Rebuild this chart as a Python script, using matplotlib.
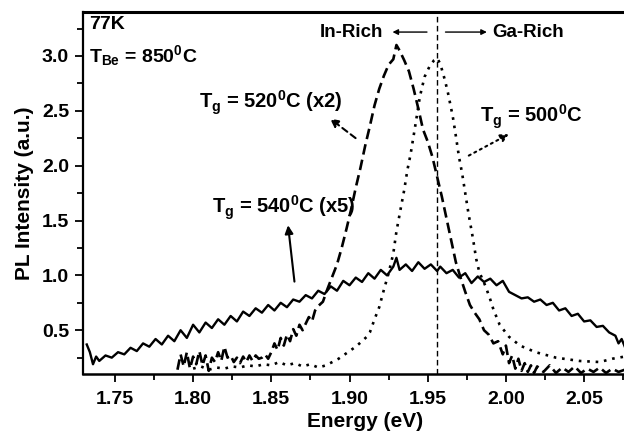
import matplotlib

matplotlib.use("Agg")
import matplotlib.pyplot as plt
from matplotlib.ticker import MultipleLocator, FormatStrFormatter

plt.rcParams["font.family"] = ["Liberation Sans", "DejaVu Sans"]
plt.rcParams["font.weight"] = "bold"
plt.rcParams["mathtext.fontset"] = "custom"
plt.rcParams["mathtext.rm"] = "Liberation Sans:bold"
plt.rcParams["mathtext.bf"] = "Liberation Sans:bold"
plt.rcParams["mathtext.it"] = "Liberation Sans:bold"

# Tg = 540 C (x5), solid
e540 = [1.732, 1.734, 1.736, 1.738, 1.740, 1.744, 1.748, 1.752, 1.756, 1.760,
        1.764, 1.768, 1.772, 1.776, 1.780, 1.784, 1.788, 1.792, 1.796, 1.800,
        1.804, 1.808, 1.812, 1.816, 1.820, 1.824, 1.828, 1.832, 1.836, 1.840,
        1.844, 1.848, 1.852, 1.856, 1.860, 1.864, 1.868, 1.872, 1.876, 1.880,
        1.884, 1.888, 1.892, 1.896, 1.900, 1.904, 1.908, 1.912, 1.916, 1.920,
        1.924, 1.928, 1.930, 1.932, 1.936, 1.940, 1.944, 1.948, 1.952, 1.956,
        1.958, 1.962, 1.966, 1.970, 1.974, 1.978, 1.982, 1.986, 1.990, 1.994,
        1.998, 2.002, 2.006, 2.010, 2.014, 2.018, 2.022, 2.026, 2.030, 2.034,
        2.038, 2.042, 2.046, 2.050, 2.054, 2.058, 2.062, 2.066, 2.070, 2.072,
        2.074, 2.076]
i540 = [0.37, 0.30, 0.19, 0.26, 0.22, 0.27, 0.25, 0.30, 0.28, 0.34,
        0.31, 0.38, 0.35, 0.42, 0.37, 0.45, 0.40, 0.50, 0.43, 0.55,
        0.48, 0.57, 0.52, 0.60, 0.55, 0.63, 0.58, 0.67, 0.63, 0.70,
        0.66, 0.73, 0.68, 0.75, 0.71, 0.78, 0.76, 0.82, 0.79, 0.86,
        0.83, 0.90, 0.86, 0.95, 0.91, 0.98, 0.94, 1.02, 0.97, 1.05,
        1.00, 1.08, 1.16, 1.05, 1.10, 1.04, 1.12, 1.06, 1.10, 1.04,
        1.08, 1.02, 1.05, 0.98, 1.02, 0.93, 0.99, 0.94, 0.97, 0.91,
        0.95, 0.85, 0.82, 0.79, 0.80, 0.76, 0.78, 0.73, 0.75, 0.68,
        0.70, 0.63, 0.65, 0.58, 0.59, 0.53, 0.54, 0.48, 0.45, 0.38,
        0.42, 0.35]

# Tg = 520 C (x2), dashed
e520 = [1.790, 1.792, 1.794, 1.796, 1.798, 1.800, 1.802, 1.804, 1.806, 1.808,
        1.810, 1.812, 1.814, 1.816, 1.818, 1.820, 1.822, 1.824, 1.826, 1.828,
        1.830, 1.832, 1.834, 1.836, 1.838, 1.840, 1.842, 1.844, 1.846, 1.848,
        1.850, 1.852, 1.854, 1.856, 1.858, 1.860, 1.862, 1.864, 1.866, 1.868,
        1.870, 1.872, 1.874, 1.876, 1.878, 1.880, 1.883, 1.886, 1.889, 1.892,
        1.895, 1.898, 1.901, 1.904, 1.907, 1.910, 1.913, 1.916, 1.919, 1.922,
        1.925, 1.928, 1.930, 1.932, 1.935, 1.938, 1.941, 1.944, 1.947, 1.950,
        1.953, 1.956, 1.959, 1.962, 1.965, 1.968, 1.971, 1.974, 1.977, 1.980,
        1.983, 1.986, 1.989, 1.992, 1.995, 1.998, 2.000, 2.002, 2.004, 2.006,
        2.008, 2.010, 2.012, 2.014, 2.016, 2.018, 2.020, 2.024, 2.028, 2.032,
        2.036, 2.040, 2.044, 2.048, 2.052, 2.056, 2.060, 2.064, 2.068, 2.072,
        2.076]
i520 = [0.14, 0.28, 0.17, 0.30, 0.15, 0.26, 0.19, 0.31, 0.18, 0.27,
        0.13, 0.25, 0.21, 0.30, 0.22, 0.35, 0.25, 0.27, 0.21, 0.25,
        0.20, 0.26, 0.21, 0.27, 0.22, 0.27, 0.24, 0.25, 0.28, 0.24,
        0.30, 0.38, 0.32, 0.43, 0.36, 0.46, 0.40, 0.51, 0.45, 0.55,
        0.50, 0.56, 0.62, 0.58, 0.68, 0.72, 0.76, 0.88, 0.99, 1.10,
        1.25, 1.42, 1.60, 1.80, 1.98, 2.18, 2.36, 2.55, 2.70, 2.82,
        2.92, 2.97, 3.10, 3.05, 2.96, 2.86, 2.70, 2.52, 2.33, 2.22,
        2.08, 1.90, 1.72, 1.52, 1.32, 1.12, 0.98, 0.85, 0.73, 0.66,
        0.60, 0.50, 0.46, 0.38, 0.40, 0.28, 0.36, 0.20, 0.27, 0.15,
        0.24, 0.13, 0.20, 0.12, 0.18, 0.11, 0.17, 0.12, 0.18, 0.11,
        0.16, 0.12, 0.17, 0.11, 0.15, 0.12, 0.16, 0.11, 0.15, 0.12,
        0.14]

# Tg = 500 C, dotted
e500 = [1.800, 1.805, 1.810, 1.815, 1.820, 1.825, 1.830, 1.835, 1.840, 1.845,
        1.850, 1.855, 1.860, 1.865, 1.870, 1.875, 1.880, 1.885, 1.889, 1.893,
        1.896, 1.900, 1.904, 1.908, 1.911, 1.913, 1.916, 1.919, 1.922, 1.925,
        1.928, 1.930, 1.933, 1.935, 1.937, 1.939, 1.942, 1.945, 1.948, 1.951,
        1.954, 1.956, 1.958, 1.961, 1.963, 1.966, 1.968, 1.970, 1.972, 1.974,
        1.976, 1.979, 1.981, 1.983, 1.987, 1.990, 1.992, 1.996, 2.002, 2.009,
        2.019, 2.032, 2.047, 2.060, 2.068, 2.076]
i500 = [0.15, 0.17, 0.14, 0.16, 0.15, 0.17, 0.16, 0.18, 0.17, 0.19,
        0.18, 0.21, 0.18, 0.20, 0.17, 0.19, 0.16, 0.18, 0.21, 0.24,
        0.27, 0.31, 0.35, 0.40, 0.44, 0.48, 0.60, 0.71, 0.87, 1.02,
        1.20, 1.40, 1.63, 1.78, 1.96, 2.10, 2.36, 2.63, 2.81, 2.90,
        2.96, 2.98, 2.93, 2.78, 2.66, 2.45, 2.27, 2.08, 1.93, 1.75,
        1.57, 1.33, 1.15, 1.03, 0.90, 0.78, 0.69, 0.55, 0.44, 0.36,
        0.30, 0.25, 0.22, 0.21, 0.24, 0.26]

x_ticks = [1.75, 1.80, 1.85, 1.90, 1.95, 2.00, 2.05]
y_ticks = [0.5, 1.0, 1.5, 2.0, 2.5, 3.0]
boundary = 1.956

fig = plt.figure(figsize=(6.24, 4.32), dpi=100)
ax = fig.add_axes([0.133, 0.134, 0.867, 0.838])

ax.plot(e540, i540, color="k", lw=1.7, ls="-")
ax.plot(e520, i520, color="k", lw=1.9, ls=(0, (4, 2)))
ax.plot(e500, i500, color="k", lw=1.9, ls=(0, (1, 2.2)))
ax.axvline(boundary, color="k", lw=1.0, ls=(0, (4, 2.5)))

ax.set_xlim(1.7296, 2.0755)
ax.set_ylim(0.1, 3.4)
ax.set_xticks(x_ticks)
ax.set_yticks(y_ticks)
ax.xaxis.set_minor_locator(MultipleLocator(0.025))
ax.yaxis.set_minor_locator(MultipleLocator(0.25))
ax.xaxis.set_major_formatter(FormatStrFormatter("%.2f"))
ax.yaxis.set_major_formatter(FormatStrFormatter("%.1f"))
ax.tick_params(which="major", length=6, width=1.3, labelsize=14, pad=4)
ax.tick_params(which="minor", length=4, width=1.3)
ax.tick_params(axis="x", pad=6)
for lab in ax.get_xticklabels() + ax.get_yticklabels():
    lab.set_fontweight("bold")

ax.spines["right"].set_visible(False)
ax.spines["left"].set_linewidth(1.6)
ax.spines["bottom"].set_linewidth(1.8)
ax.spines["top"].set_linewidth(2.2)

ax.set_xlabel("Energy (eV)", fontsize=15, fontweight="bold")
ax.xaxis.set_label_coords(0.522, -0.106)
ax.set_ylabel("PL Intensity (a.u.)", fontsize=15, fontweight="bold", labelpad=6)

ax.text(1.7335, 3.29, "77K", fontsize=14, fontweight="bold", va="center")
ax.text(1.7335, 3.0, r"T$_{\mathrm{Be}}$ = 850$^{0}$C", fontsize=14,
        fontweight="bold", va="center")

ax.text(1.804, 2.575, r"T$_{g}$ = 520$^{0}$C (x2)", fontsize=14.5,
        fontweight="bold", va="center")
ax.annotate("", xy=(1.8861, 2.445), xytext=(1.9053, 2.236),
            arrowprops=dict(arrowstyle="-|>", color="k", lw=1.5,
                            ls=(0, (3, 2)), mutation_scale=12))

ax.text(1.9833, 2.445, r"T$_{g}$ = 500$^{0}$C", fontsize=14.5,
        fontweight="bold", va="center")
ax.annotate("", xy=(2.0035, 2.30), xytext=(1.9747, 2.08),
            arrowprops=dict(arrowstyle="-|>", color="k", lw=1.5,
                            ls=(0, (1, 2)), mutation_scale=12))

ax.text(1.812, 1.62, r"T$_{g}$ = 540$^{0}$C (x5)", fontsize=14.5,
        fontweight="bold", va="center")
ax.annotate("", xy=(1.8605, 1.482), xytext=(1.865, 0.918),
            arrowprops=dict(arrowstyle="-|>", color="k", lw=1.5,
                            mutation_scale=12))

ax.text(1.9213, 3.218, "In-Rich", fontsize=13.5, fontweight="bold",
        ha="right", va="center")
ax.annotate("", xy=(1.9257, 3.218), xytext=(1.9513, 3.218),
            arrowprops=dict(arrowstyle="-|>", color="k", lw=1.0,
                            mutation_scale=8))
ax.text(1.991, 3.218, "Ga-Rich", fontsize=13.5, fontweight="bold",
        ha="left", va="center")
ax.annotate("", xy=(1.9896, 3.218), xytext=(1.9596, 3.218),
            arrowprops=dict(arrowstyle="-|>", color="k", lw=1.0,
                            mutation_scale=8))

fig.savefig("out.png", dpi=100)
